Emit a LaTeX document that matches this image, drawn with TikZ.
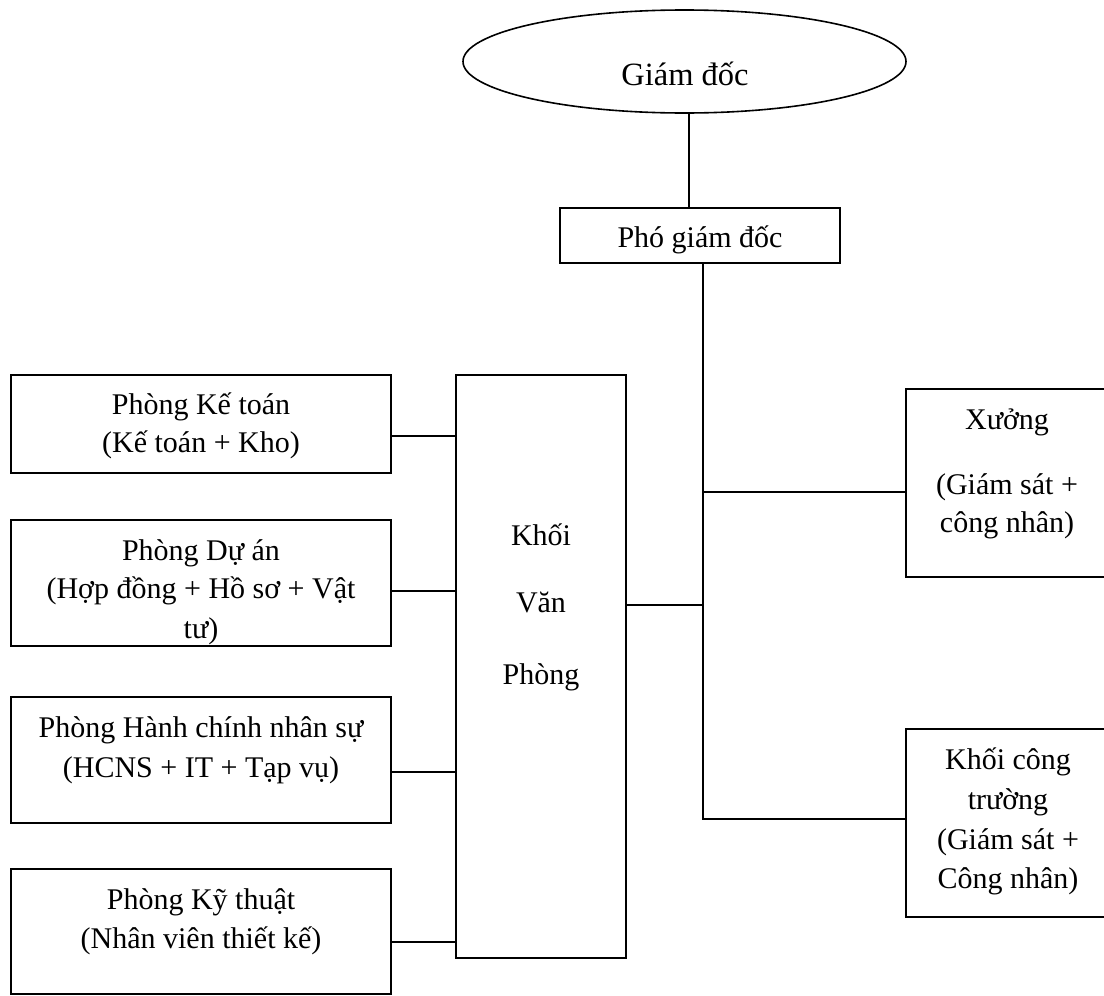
\documentclass[tikz,border=0pt]{standalone}
\usepackage{fontspec}
\setmainfont{Liberation Serif}
\usetikzlibrary{shapes.geometric}
\tikzset{
  lw/.style={line width=1.6pt},
  boxnode/.style={draw, lw, rectangle, inner sep=0pt},
  ovalnode/.style={draw, lw, ellipse, inner sep=0pt},
  txt/.style={font=\fontsize{30}{36}\selectfont, inner sep=0pt, anchor=base},
  bigtxt/.style={font=\fontsize{32.5}{38}\selectfont, inner sep=0pt, anchor=base},
  link/.style={draw, lw}
}
\begin{document}
\begin{tikzpicture}[x=1pt,y=-1pt]
\clip (0,0) rectangle (1104,996);
\fill[white] (0,0) rectangle (1104,996);
% boxes
\node[ovalnode, minimum width=443pt, minimum height=103pt] (gd) at (684.5,61.5) {};
\node[boxnode, minimum width=280pt, minimum height=55pt] (pgd) at (700,235.5) {};
\node[boxnode, minimum width=380pt, minimum height=98pt] (kt) at (201,424) {};
\node[boxnode, minimum width=380pt, minimum height=126pt] (da) at (201,583) {};
\node[boxnode, minimum width=380pt, minimum height=126pt] (hc) at (201,760) {};
\node[boxnode, minimum width=380pt, minimum height=125pt] (kyt) at (201,931.5) {};
\node[boxnode, minimum width=170pt, minimum height=583pt] (kvp) at (541,666.5) {};
\node[boxnode, minimum width=204pt, minimum height=188pt] (xg) at (1008,483) {};
\node[boxnode, minimum width=204pt, minimum height=188pt] (ct) at (1008,823) {};
% texts (positions are baselines)
\node[bigtxt] (gdT) at (685,85) {Giám đốc};
\node[txt] (pgdT) at (700,247) {Phó giám đốc};
\node[txt] (kt1) at (201,414) {Phòng Kế toán};
\node[txt] (kt2) at (201,452) {(Kế toán + Kho)};
\node[txt] (da1) at (201,560) {Phòng Dự án};
\node[txt] (da2) at (201,598) {(Hợp đồng + Hồ sơ + Vật};
\node[txt] (da3) at (201,638) {tư)};
\node[txt] (hc1) at (201,737) {Phòng Hành chính nhân sự};
\node[txt] (hc2) at (201,777) {(HCNS + IT + Tạp vụ)};
\node[txt] (ky1) at (201,909) {Phòng Kỹ thuật};
\node[txt] (ky2) at (201,948) {(Nhân viên thiết kế)};
\node[txt] (kv1) at (541,545) {Khối};
\node[txt] (kv2) at (541,612) {Văn};
\node[txt] (kv3) at (541,684) {Phòng};
\node[txt] (xg1) at (1007,429) {Xưởng};
\node[txt] (xg2) at (1007,494) {(Giám sát +};
\node[txt] (xg3) at (1007,532) {công nhân)};
\node[txt] (ct1) at (1008,769) {Khối công};
\node[txt] (ct2) at (1008,809) {trường};
\node[txt] (ct3) at (1008,849) {(Giám sát +};
\node[txt] (ct4) at (1008,888) {Công nhân)};
% connectors
\draw[link] ([xshift=4.5pt]gd.south) -- ([xshift=-11pt]pgd.north);
\coordinate (tt) at ([xshift=3pt]pgd.south);
\coordinate (xa) at ([yshift=-9pt]xg.west);
\coordinate (ca) at ([yshift=4pt]ct.west);
\coordinate (ka) at ([yshift=61.5pt]kvp.east);
\draw[link] (tt) -- (tt |- ca) -- (ca);
\draw[link] (xa -| tt) -- (xa);
\draw[link] (ka) -- (ka -| tt);
\coordinate (l1) at ([yshift=-12pt]kt.east);
\coordinate (l2) at ([yshift=-8pt]da.east);
\coordinate (l3) at ([yshift=-12pt]hc.east);
\coordinate (l4) at ([yshift=-10.5pt]kyt.east);
\draw[link] (l1) -- (l1 -| kvp.west);
\draw[link] (l2) -- (l2 -| kvp.west);
\draw[link] (l3) -- (l3 -| kvp.west);
\draw[link] (l4) -- (l4 -| kvp.west);
\end{tikzpicture}
\end{document}
